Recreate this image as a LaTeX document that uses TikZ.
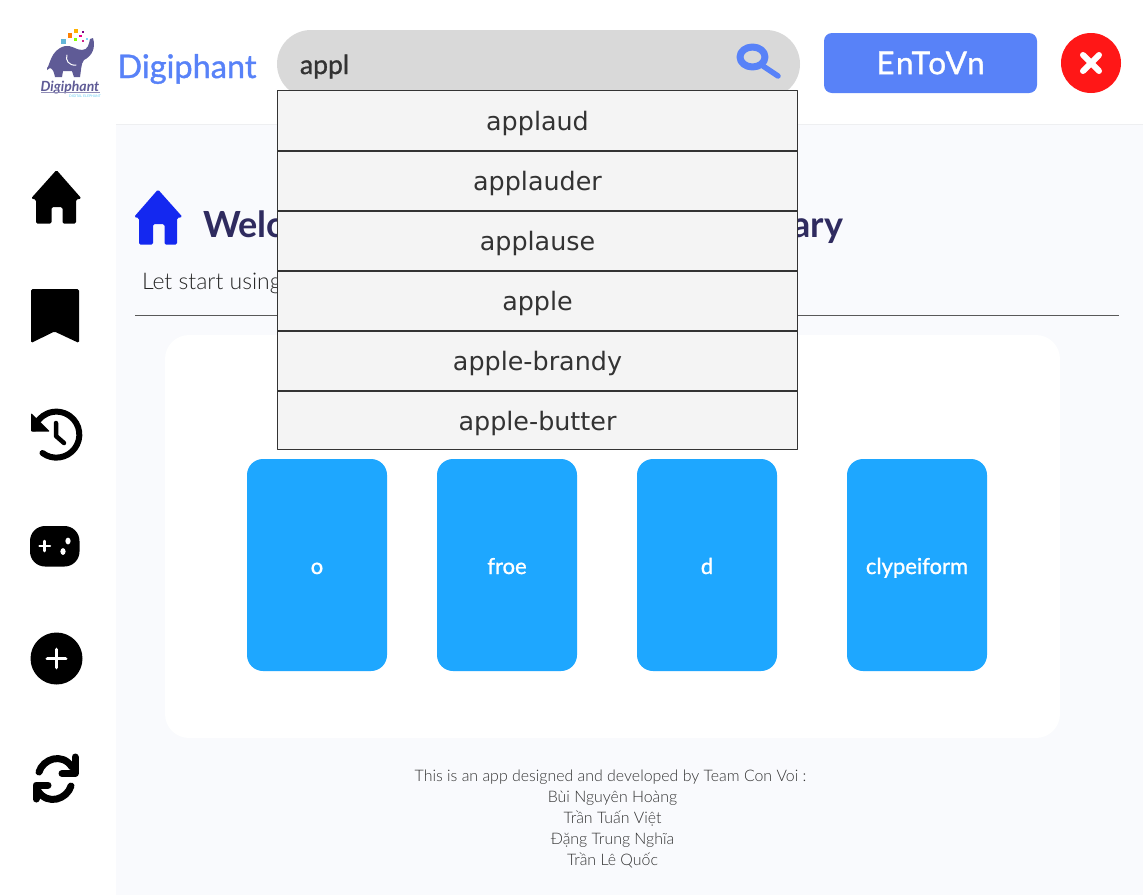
\documentclass[tikz,border=0pt]{standalone}
\usepackage{fontspec}
\setmainfont{Lato}
\newfontfamily\lightfont{Lato}[UprightFont={* Light}]
\newfontfamily\mediumfont{Lato}[RawFeature={embolden=1.1}]
\newfontfamily\wordfont{DejaVu Sans}
\definecolor{panelbg}{HTML}{F9FAFD}
\definecolor{panelline}{HTML}{EEEFF1}
\definecolor{searchbg}{HTML}{D9D9D9}
\definecolor{wordbg}{HTML}{F4F4F4}
\definecolor{worddark}{HTML}{333333}
\definecolor{brandblue}{HTML}{5882F8}
\definecolor{cardblue}{HTML}{1EA7FF}
\definecolor{closered}{HTML}{FF1717}
\definecolor{homeblue}{HTML}{1428F0}
\definecolor{titledark}{HTML}{2F2B5F}
\definecolor{elephant}{HTML}{5F5B96}
\begin{document}
\begin{tikzpicture}[x=1pt, y=-1pt, line join=round, line cap=round,
	every node/.style={inner sep=0pt, outer sep=0pt},
	wordbox/.style={draw=worddark, line width=1.2pt, fill=wordbg, minimum width=520pt, minimum height=60pt, text height=25pt, text depth=5pt, text=worddark, font=\wordfont\fontsize{25.4}{30}\selectfont},
	wordline/.style={draw=worddark, line width=2pt, line cap=butt},
	cardbox/.style={fill=cardblue, rounded corners=16pt, minimum width=140pt, minimum height=212pt, text height=22pt, text depth=4pt, text=white, font=\mediumfont\fontsize{22}{27}\selectfont},
	footline/.style={anchor=base, text=black!80, font=\lightfont\fontsize{15.9}{21}\selectfont},
	iconline/.style={draw=black, line width=6pt}]
	\useasboundingbox (0, 0) rectangle (1143, 895);
	\fill[white] (0, 0) rectangle (1143, 895);
	
	% Panels
	\fill[panelbg] (116, 124) rectangle (1143, 895);
	\draw[panelline, line width=1pt, line cap=butt] (116, 124) -- (1143, 124);
	\fill[white, rounded corners=24pt] (165, 335) rectangle (1060, 738);
	
	% Logo
	\fill[elephant] (47, 68) .. controls (50, 66) and (50, 50) .. (65, 46) .. controls (72, 45) and (76, 50) .. (82, 50) .. controls (88, 50) and (89, 44) .. (90, 39) -- (93, 38) .. controls (96, 48) and (92, 56) .. (84, 60) .. controls (81, 63) and (81, 72) .. (80, 77) -- (74, 77) -- (72, 71) -- (63, 71) -- (62, 77) -- (55, 77) .. controls (54, 72) and (53, 69) .. (50, 68) -- (47, 70) -- cycle;
	\draw[white, line width=1pt] (67, 55) .. controls (65, 60) and (69, 66) .. (76, 65);
	\fill[cyan!60!teal!70] (61, 38.5) rectangle (65.5, 43.5);
	\fill[orange] (67.5, 32.5) rectangle (72, 37.5);
	\fill[orange!60!yellow] (74, 29) rectangle (78, 33);
	\fill[lime!70!green] (74, 37.5) rectangle (77, 41);
	\fill[magenta] (79, 34.5) rectangle (81.5, 37);
	\fill[violet] (82, 31) rectangle (83.5, 33);
	\fill[magenta!70!violet] (81.5, 39.5) rectangle (83.5, 41.5);
	\fill[cyan!50] (86, 38) rectangle (87.5, 39.5);
	\node[text=elephant, font=\bfseries\itshape\fontsize{14}{15}\selectfont] (logotext) at (70, 87.5) {Digiphant};
	\draw[elephant!70, line width=0.8pt, line cap=butt] (41, 92.8) -- (100, 92.8);
	\node[text=cyan!60, font=\fontsize{3.5}{4}\selectfont] (logosub) at (85, 96) {DIGITAL ELEPHANT};
	\node[anchor=base west, text=brandblue, font=\mediumfont\fontsize{32.5}{38}\selectfont] (brand) at (117.5, 78) {Digiphant};
	
	% Search
	\fill[searchbg, rounded corners=34pt] (277, 30) rectangle (800, 98);
	\node[anchor=base west, text=worddark, font=\mediumfont\fontsize{26.5}{32}\selectfont] (searchtext) at (300, 74) {appl};
	\draw[brandblue, line width=7pt] (752.5, 57) ellipse (12.5 and 10);
	\draw[brandblue, line width=5.5pt] (763, 66) -- (778, 76);
	\node[fill=brandblue, rounded corners=8pt, minimum width=213pt, minimum height=60pt, text=white, font=\mediumfont\fontsize{31.5}{36}\selectfont\addfontfeature{LetterSpace=6}] (langbtn) at (930.5, 63) {EnToVn};
	\node[fill=closered, circle, minimum size=60pt] (closebtn) at (1091, 63) {};
	\draw[white, line width=6pt] (1083, 55) -- (1099, 71);
	\draw[white, line width=6pt] (1099, 55) -- (1083, 71);
	
	% Sidebar
	\fill[black, rounded corners=1.5pt] (56.5, 170) -- (81.5, 198.5) -- (76, 199.5) -- (76, 223.5) -- (62.5, 223.5) -- (62.5, 207) -- (51.5, 207) -- (51.5, 223.5) -- (36, 223.5) -- (36, 199.5) -- (31, 198.5) -- cycle;
	\fill[black, rounded corners=1.5pt] (31, 289) -- (79, 289) -- (79, 343) -- (54.5, 331.5) -- (31, 343) -- cycle;
	\draw[iconline] (42.5, 453) arc[start angle=127, end angle=-165, radius=23];
	\fill[black, rounded corners=1pt] (31, 413) -- (50, 431.5) -- (31, 431.5) -- cycle;
	\draw[black, line width=4.5pt] (56, 423) -- (56, 436) -- (64, 443);
	\fill[black, rounded corners=15pt] (30, 526) rectangle (79.5, 566.5);
	\draw[white, line width=2.5pt] (39.5, 546) -- (50, 546) (44.7, 541) -- (44.7, 551);
	\fill[white] (68, 541) ellipse (2.6 and 3.4);
	\fill[white] (63, 551.5) ellipse (2.6 and 3.4);
	\node[fill=black, circle, minimum size=52pt] (addbtn) at (56.5, 658.5) {};
	\draw[white, line width=3.8pt] (47.5, 658.5) -- (65.5, 658.5) (56.5, 649.5) -- (56.5, 667.5);
	\draw[iconline, line width=7pt] (39, 772) .. controls (43, 759) and (62, 752) .. (72, 767);
	\draw[iconline, line width=7pt] (75, 757) -- (75, 773.5) -- (62, 773.5);
	\draw[iconline, line width=7pt] (71, 786) .. controls (67, 799) and (48, 806) .. (38, 791);
	\draw[iconline, line width=7pt] (36, 799) -- (36, 785) -- (48, 785);
	
	% Header
	\fill[homeblue, rounded corners=1.5pt] (158, 189.5) -- (182.5, 217) -- (177, 218) -- (177, 244.5) -- (164.5, 244.5) -- (164.5, 224) -- (153, 224) -- (153, 244.5) -- (139, 244.5) -- (139, 218) -- (134, 217) -- cycle;
	\node[anchor=base west, text=titledark, font=\bfseries\fontsize{36}{42}\selectfont] (welcome) at (203, 237) {Welco};
	\node[anchor=base east, text=titledark, font=\bfseries\fontsize{36}{42}\selectfont] (dictionary) at (843, 237) {ary};
	\node[anchor=base west, text=black!85, font=\lightfont\fontsize{23}{30}\selectfont] (letstart) at (142, 289.5) {Let start using};
	\draw[black!65, line width=1pt, line cap=butt] (135, 315) -- (1119, 315);
	
	% Cards
	\node[cardbox] (cardo) at (317, 565) {o};
	\node[cardbox] (cardfroe) at (507, 565) {froe};
	\node[cardbox] (cardd) at (707, 565) {d};
	\node[cardbox] (cardclype) at (917, 565) {clypeiform};
	
	% Suggestions
	\node[wordbox] (word1) at (537.5, 120.5) {applaud};
	\node[wordbox] (word2) at (537.5, 180.5) {applauder};
	\node[wordbox] (word3) at (537.5, 240.5) {applause};
	\node[wordbox] (word4) at (537.5, 300.5) {apple};
	\node[wordbox] (word5) at (537.5, 360.5) {apple-brandy};
	\node[wordbox, minimum height=59pt] (word6) at (537.5, 420) {apple-butter};
	\draw[wordline] (word1.south west) -- (word1.south east);
	\draw[wordline] (word2.south west) -- (word2.south east);
	\draw[wordline] (word3.south west) -- (word3.south east);
	\draw[wordline] (word4.south west) -- (word4.south east);
	\draw[wordline] (word5.south west) -- (word5.south east);
	
	% Footer
	\node[footline] (foot1) at (610.5, 781) {This is an app designed and developed by Team Con Voi :};
	\node[footline] (foot2) at (612.5, 802) {Bùi Nguyên Hoàng};
	\node[footline] (foot3) at (612.5, 823) {Trần Tuấn Việt};
	\node[footline] (foot4) at (612.5, 844) {Đặng Trung Nghĩa};
	\node[footline] (foot5) at (612.5, 865) {Trần Lê Quốc};
\end{tikzpicture}
\end{document}
